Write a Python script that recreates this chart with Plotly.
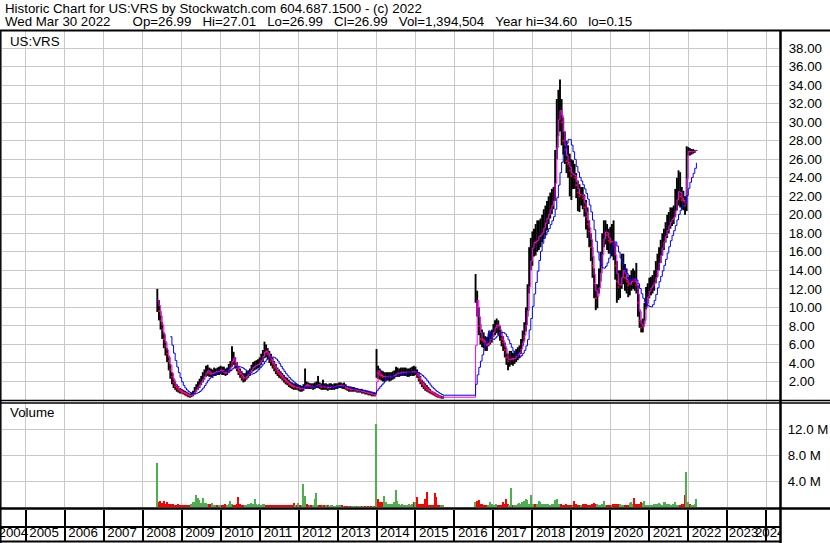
import plotly.graph_objects as go
import pandas as pd

# ---------------- DATA (semi-monthly bars, 24 per year) ----------------
# Segment 1: old listing, starts at 2008, half-month #9 (mid-May 2008)
seg1_start = (2008, 9)
seg1_high = [
    # 2008
    12.0, 10.8, 9.6, 8.4, 7.3, 6.4, 5.6, 4.8, 3.9, 3.0, 2.4, 2.0, 1.7, 1.5, 1.3,
    # 2009
    1.2, 1.1, 1.0, 0.9, 0.8, 0.7, 0.8, 1.0, 1.4, 1.7, 2.0, 2.3, 2.6, 3.0, 3.3, 3.7, 3.8, 3.5, 3.4, 3.3, 3.5, 3.4, 3.5, 3.6,
    # 2010
    3.7, 3.6, 3.6, 3.4, 3.5, 3.9, 4.2, 5.8, 5.2, 4.6, 4.1, 3.7, 3.4, 3.1, 2.9, 2.9, 3.1, 3.2, 3.4, 3.8, 4.1, 4.2, 4.3, 4.4,
    # 2011
    4.6, 5.0, 5.4, 6.3, 6.0, 5.6, 5.3, 5.0, 4.6, 4.2, 3.9, 3.5, 3.3, 3.1, 2.9, 2.7, 2.5, 2.4, 2.2, 2.0, 1.9, 1.8, 1.8, 1.7,
    # 2012
    1.6, 1.6, 1.5, 1.7, 3.4, 2.0, 1.9, 1.8, 1.8, 1.8, 1.9, 2.0, 2.6, 1.9, 1.8, 2.2, 1.8, 1.8, 1.7, 1.8, 1.8, 1.7, 1.8, 1.8,
    # 2013
    1.8, 1.9, 1.9, 1.8, 1.9, 1.7, 1.5, 1.4, 1.4, 1.4, 1.4, 1.3, 1.3, 1.2, 1.2, 1.2, 1.1, 1.1, 1.0, 1.0, 0.9, 0.9, 0.8, 0.8,
    # 2014
    5.5, 3.7, 3.4, 3.2, 3.1, 3.0, 3.0, 3.0, 3.0, 3.0, 3.1, 3.2, 3.6, 3.5, 3.4, 3.5, 3.5, 3.5, 3.5, 3.4, 3.4, 3.5, 3.6, 3.7,
    # 2015
    3.6, 3.3, 3.0, 2.6, 2.2, 2.0, 1.8, 1.6, 1.4, 1.2, 1.0, 0.9, 0.8, 0.7, 0.6, 0.5, 0.45, 0.4,
]
seg1_low = [
    9.5, 8.6, 7.6, 6.6, 5.6, 4.8, 4.1, 3.2, 2.3, 1.7, 1.3, 1.1, 0.9, 0.8, 0.7,
    0.7, 0.6, 0.5, 0.4, 0.3, 0.25, 0.3, 0.4, 0.6, 0.9, 1.1, 1.3, 1.6, 1.9, 2.2, 2.5, 2.6, 2.5, 2.5, 2.4, 2.6, 2.6, 2.7, 2.7,
    2.8, 2.7, 2.7, 2.6, 2.7, 2.9, 3.1, 3.6, 3.8, 3.4, 3.1, 2.7, 2.4, 2.1, 1.9, 2.0, 2.2, 2.4, 2.6, 2.9, 3.1, 3.2, 3.3, 3.4,
    3.5, 3.8, 4.1, 4.5, 4.6, 4.4, 4.0, 3.7, 3.4, 3.1, 2.8, 2.6, 2.4, 2.3, 2.1, 1.9, 1.7, 1.6, 1.4, 1.3, 1.2, 1.1, 1.1, 1.1,
    1.0, 0.9, 0.9, 1.0, 1.2, 1.2, 1.2, 1.2, 1.2, 1.1, 1.2, 1.3, 1.3, 1.2, 1.1, 1.1, 1.1, 1.1, 1.0, 1.1, 1.1, 1.1, 1.1, 1.2,
    1.2, 1.3, 1.3, 1.2, 1.2, 1.1, 1.0, 0.9, 0.9, 0.9, 0.9, 0.9, 0.8, 0.8, 0.8, 0.7, 0.7, 0.6, 0.6, 0.5, 0.5, 0.4, 0.4, 0.4,
    2.4, 2.3, 2.2, 2.1, 2.0, 2.0, 2.1, 2.1, 2.0, 2.1, 2.2, 2.3, 2.5, 2.5, 2.5, 2.6, 2.6, 2.6, 2.6, 2.5, 2.5, 2.6, 2.6, 2.6,
    2.7, 2.4, 2.0, 1.7, 1.4, 1.2, 1.0, 0.9, 0.8, 0.7, 0.6, 0.5, 0.4, 0.3, 0.25, 0.2, 0.15, 0.15,
]
seg1_close = [
    10.8, 9.6, 8.6, 7.6, 6.6, 5.8, 5.0, 4.2, 3.3, 2.5, 1.9, 1.5, 1.3, 1.1, 0.95,
    0.85, 0.8, 0.7, 0.6, 0.5, 0.45, 0.5, 0.7, 1.0, 1.3, 1.5, 1.8, 2.1, 2.4, 2.7, 3.1, 3.2, 2.9, 2.8, 2.9, 3.0, 3.1, 3.0, 3.2,
    3.3, 3.1, 3.0, 2.9, 3.1, 3.4, 3.6, 4.7, 4.3, 3.8, 3.4, 3.0, 2.8, 2.5, 2.3, 2.4, 2.7, 2.9, 3.1, 3.4, 3.6, 3.7, 3.8, 3.9,
    4.1, 4.5, 4.9, 5.4, 5.2, 4.9, 4.6, 4.2, 3.9, 3.5, 3.2, 3.0, 2.8, 2.6, 2.4, 2.2, 2.0, 1.9, 1.7, 1.6, 1.5, 1.4, 1.4, 1.3,
    1.3, 1.2, 1.2, 1.3, 1.7, 1.6, 1.5, 1.5, 1.4, 1.4, 1.5, 1.6, 1.7, 1.5, 1.4, 1.5, 1.4, 1.4, 1.3, 1.4, 1.4, 1.4, 1.5, 1.5,
    1.5, 1.6, 1.6, 1.5, 1.5, 1.3, 1.2, 1.2, 1.1, 1.1, 1.1, 1.1, 1.0, 1.0, 1.0, 0.9, 0.9, 0.8, 0.8, 0.7, 0.7, 0.6, 0.6, 0.5,
    3.4, 2.9, 2.7, 2.6, 2.5, 2.5, 2.5, 2.5, 2.5, 2.5, 2.6, 2.7, 2.9, 2.9, 2.9, 3.0, 3.0, 3.0, 3.0, 3.0, 3.0, 3.0, 3.1, 3.0,
    3.0, 2.7, 2.3, 2.0, 1.7, 1.5, 1.3, 1.1, 1.0, 0.9, 0.8, 0.7, 0.55, 0.45, 0.35, 0.3, 0.3, 0.3,
]
seg1_volume_m = [
    6.7, 0.8, 0.9, 0.6, 0.9, 0.5, 0.7, 0.5, 0.4, 0.5, 0.4, 0.3, 0.3, 0.4, 0.3,
    0.3, 0.3, 0.2, 0.3, 0.2, 0.3, 0.4, 0.8, 0.8, 1.9, 1.4, 1.1, 0.6, 1.4, 0.6, 0.6, 0.4, 0.4, 0.4, 0.6, 0.3, 0.3, 0.3, 0.3,
    0.3, 0.3, 0.3, 0.4, 0.3, 0.4, 0.9, 0.5, 0.3, 0.3, 0.4, 1.5, 0.4, 0.3, 0.3, 0.3, 0.3, 0.4, 0.4, 0.6, 0.5, 1.2, 0.4, 0.3,
    0.4, 0.3, 0.4, 0.5, 0.3, 0.3, 0.3, 0.2, 0.3, 0.2, 0.2, 0.3, 0.2, 0.3, 0.2, 0.2, 0.3, 0.2, 0.2, 0.3, 0.2, 0.6, 0.2, 0.2,
    0.6, 0.3, 0.2, 3.5, 1.7, 0.4, 0.3, 0.2, 0.2, 0.3, 1.3, 2.2, 0.3, 0.3, 0.2, 0.3, 0.2, 0.2, 0.2, 0.1, 0.2, 0.2, 0.1, 0.1,
    0.2, 0.2, 0.2, 0.2, 0.15, 0.15, 0.15, 0.1, 0.1, 0.15, 0.1, 0.1, 0.1, 0.1, 0.1, 0.1, 0.1, 0.1, 0.1, 0.1, 0.1, 0.1, 0.1, 0.15,
    12.8, 1.3, 0.8, 0.7, 0.7, 1.7, 0.8, 0.4, 0.5, 0.4, 0.4, 0.7, 2.6, 0.9, 0.4, 0.3, 0.4, 0.3, 0.3, 0.3, 0.4, 0.3, 0.4, 0.7,
    0.7, 1.6, 0.4, 0.5, 0.4, 0.5, 1.3, 2.3, 0.3, 0.3, 0.3, 0.3, 2.1, 1.6, 0.2, 0.2, 0.2, 0.2,
]

# Segment 2: new listing, starts at 2016, half-month #13 (mid-July 2016)
seg2_start = (2016, 13)
seg2_high = [
    # 2016
    13.6, 11.8, 10.0, 8.2, 7.6, 7.3, 6.9, 6.8, 7.2, 7.4, 7.6,
    # 2017
    8.2, 8.6, 8.8, 8.6, 8.0, 7.4, 6.9, 6.2, 5.6, 5.0, 5.3, 5.3, 5.1, 5.3, 5.5, 5.7, 5.9, 6.6, 7.5, 8.4, 10.0, 12.5, 16.5, 17.5,
    # 2018
    18.2, 18.5, 19.0, 19.4, 19.4, 19.6, 20.0, 20.6, 21.0, 21.5, 22.0, 22.4, 22.8, 23.0, 27.0, 32.5, 33.5, 34.6, 32.5, 30.5, 29.0, 28.0, 27.5, 26.6,
    # 2019
    26.0, 25.9, 25.5, 24.5, 23.7, 23.3, 23.0, 23.0, 22.2, 21.6, 20.8, 19.4, 18.0, 16.5, 14.2, 12.5, 12.5, 14.2, 16.0, 18.0, 19.4, 19.4, 19.0, 18.5,
    # 2020
    18.7, 19.0, 19.4, 17.0, 15.0, 14.0, 14.0, 15.8, 15.8, 14.7, 14.2, 13.3, 13.5, 14.0, 14.2, 14.0, 14.8, 12.4, 9.8, 8.6, 8.8, 10.5, 12.2, 12.6,
    # 2021
    13.2, 13.3, 13.5, 14.0, 15.0, 15.8, 16.5, 17.3, 18.0, 18.5, 19.2, 20.0, 20.3, 20.8, 20.8, 21.0, 22.8, 24.0, 24.8, 24.6, 23.0, 22.6, 22.0, 27.4,
    # 2022
    27.3, 27.2, 27.1, 27.1, 27.0, 27.01,
]
seg2_low = [
    10.5, 9.0, 7.0, 6.0, 5.7, 5.6, 5.3, 5.3, 5.8, 6.0, 6.2,
    6.8, 7.0, 7.2, 7.0, 6.4, 5.8, 5.3, 4.6, 3.8, 3.2, 3.6, 3.8, 3.7, 3.9, 4.1, 4.3, 4.5, 5.0, 5.8, 6.4, 7.4, 9.0, 11.5, 14.0,
    14.5, 15.5, 15.6, 16.0, 16.2, 16.5, 17.0, 17.4, 17.8, 18.3, 19.0, 19.6, 20.1, 20.6, 21.5, 26.0, 28.5, 29.0, 27.5, 26.5, 25.5, 24.5, 24.0, 22.0,
    21.6, 22.8, 22.8, 21.8, 20.4, 20.3, 21.0, 20.6, 19.8, 18.4, 17.5, 16.5, 15.0, 13.2, 11.0, 9.7, 9.9, 11.5, 12.8, 14.5, 16.5, 16.8, 16.2, 15.8,
    15.8, 15.5, 15.1, 13.0, 10.5, 10.8, 11.0, 12.0, 12.5, 11.8, 11.5, 11.1, 11.3, 11.8, 12.0, 11.8, 11.5, 9.0, 7.8, 7.3, 7.3, 8.2, 9.8, 10.4,
    11.0, 11.3, 11.5, 11.8, 12.6, 13.3, 14.0, 14.8, 15.6, 16.2, 17.0, 17.5, 18.0, 18.5, 18.8, 19.0, 19.8, 20.5, 21.0, 20.8, 20.6, 20.5, 20.0, 20.4,
    26.4, 26.4, 26.5, 26.6, 26.7, 26.9,
]
seg2_close = [
    11.5, 10.0, 8.0, 6.6, 6.5, 6.3, 6.0, 5.9, 6.4, 6.7, 7.0,
    7.6, 8.0, 8.2, 8.0, 7.2, 6.6, 6.2, 5.4, 4.6, 4.2, 4.5, 4.5, 4.4, 4.6, 4.8, 5.0, 5.2, 5.8, 6.6, 7.4, 8.8, 10.5, 14.0, 16.0,
    16.8, 17.2, 17.0, 17.5, 17.8, 17.8, 18.3, 18.8, 19.4, 19.8, 20.3, 20.8, 21.2, 21.8, 25.0, 29.5, 31.0, 31.5, 30.0, 28.0, 27.0, 25.8, 25.5, 24.8,
    24.2, 24.5, 24.0, 23.2, 22.4, 22.0, 22.3, 21.8, 20.8, 19.8, 19.0, 18.2, 16.5, 14.5, 12.6, 11.0, 11.4, 12.8, 14.6, 16.8, 18.0, 18.3, 17.8, 17.2,
    17.0, 17.2, 16.8, 14.5, 12.8, 12.2, 12.6, 13.8, 14.2, 13.2, 12.8, 12.4, 12.6, 13.0, 13.2, 12.8, 12.4, 10.5, 8.6, 7.8, 8.0, 9.2, 10.8, 11.5,
    12.0, 12.2, 12.5, 12.8, 13.6, 14.4, 15.2, 16.0, 16.8, 17.4, 18.0, 18.6, 19.0, 19.4, 19.6, 19.8, 21.0, 22.2, 22.8, 22.0, 21.6, 21.5, 21.0, 26.8,
    26.9, 26.8, 26.8, 26.9, 26.9, 26.99,
]
seg2_volume_m = [
    0.8, 1.0, 1.1, 0.4, 0.4, 0.3, 0.3, 0.3, 0.3, 0.7, 0.4,
    0.3, 0.3, 0.4, 0.3, 0.3, 0.3, 0.7, 0.4, 1.2, 0.4, 0.3, 3.0, 0.3, 0.3, 0.3, 0.4, 0.6, 0.4, 0.7, 0.9, 1.2, 1.1, 0.4, 1.8,
    0.4, 0.4, 0.5, 0.5, 1.0, 0.7, 0.4, 0.4, 0.4, 0.4, 0.4, 0.3, 0.4, 0.5, 1.1, 1.3, 0.5, 0.4, 0.4, 0.3, 0.3, 0.4, 0.3, 0.3,
    0.3, 0.3, 0.9, 0.5, 0.3, 0.3, 0.3, 0.4, 0.4, 0.4, 0.3, 0.3, 0.3, 0.4, 0.6, 0.5, 0.4, 0.3, 0.3, 0.4, 0.9, 0.3, 0.3, 0.3,
    0.3, 0.3, 0.5, 0.5, 0.4, 0.4, 0.4, 0.3, 0.2, 0.2, 0.3, 0.3, 0.6, 0.8, 0.5, 1.4, 0.5, 0.4, 0.5, 0.8, 0.6, 0.9, 0.3, 0.3,
    0.3, 0.3, 0.3, 0.4, 0.4, 0.4, 0.6, 0.4, 0.3, 0.8, 0.7, 0.5, 0.5, 0.3, 0.3, 0.4, 0.8, 0.3, 0.3, 0.3, 0.4, 0.4, 1.8, 5.4,
    0.7, 0.4, 0.3, 0.3, 0.5, 1.2,
]

year_labels = [str(y) for y in range(2004, 2025)]
price_ticks = list(range(2, 39, 2))
volume_ticks_m = [4, 8, 12]

header_line1 = "Historic Chart for US:VRS by Stockwatch.com 604.687.1500 - (c) 2022"
header_date = "Wed Mar 30 2022"
header_fields = ["Op=26.99", "Hi=27.01", "Lo=26.99", "Cl=26.99",
                 "Vol=1,394,504", "Year hi=34.60", "lo=0.15"]
symbol_label = "US:VRS"

# ---------------- BUILD ----------------
W, H = 830, 543
FONT = "Liberation Sans, Arial, sans-serif"


def seg_times(start, n):
    y0, p0 = start
    return [y0 + (p0 + k) / 24.0 for k in range(n)]


t = seg_times(seg1_start, len(seg1_close)) + seg_times(seg2_start, len(seg2_close))
high = seg1_high + seg2_high
low = seg1_low + seg2_low
close = seg1_close + seg2_close
vol = [v * 1e6 for v in seg1_volume_m + seg2_volume_m]

cs = pd.Series(close)
ma_fast = cs.rolling(2, min_periods=1).mean()
ma_slow = cs.rolling(9).mean()

down = [i > 0 and close[i] < close[i - 1] for i in range(len(close))]
vol_colors = ["#ff0000" if d else "#4cb04c" for d in down]

bx, by = [], []
for ti, lo, hi in zip(t, low, high):
    bx += [ti, ti, None]
    by += [lo, hi, None]

rx = [ti for ti, d in zip(t, down) if d]
ry = [c for c, d in zip(close, down) if d]


def px(xp):
    return xp / W


def py(yp):
    return 1 - yp / H


PX_PER_YEAR = 38.97
X2008 = 142.7


def yr_at(xp):
    return 2008 + (xp - X2008) / PX_PER_YEAR


XL, XR = 2, 779
XMIN, XMAX = yr_at(XL), yr_at(XR)
LXL, LXR = 0, 781

fig = go.Figure()
fig.add_trace(go.Scatter(x=bx, y=by, mode="lines", line=dict(color="black", width=1.9),
                         hoverinfo="skip", xaxis="x", yaxis="y"))
fig.add_trace(go.Scatter(x=rx, y=ry, mode="markers",
                         marker=dict(color="#ff0000", size=1.8, symbol="square", line=dict(width=0)),
                         hoverinfo="skip", xaxis="x", yaxis="y"))
fig.add_trace(go.Scatter(x=t, y=ma_fast, mode="lines", line=dict(color="#ff00ff", width=1.0, shape="hv"),
                         hoverinfo="skip", xaxis="x", yaxis="y"))
fig.add_trace(go.Scatter(x=t, y=ma_slow, mode="lines", line=dict(color="#0000ff", width=1.0, shape="hv"),
                         hoverinfo="skip", xaxis="x", yaxis="y"))
fig.add_trace(go.Bar(x=t, y=vol, width=0.036, marker=dict(color=vol_colors, line=dict(width=0)),
                     hoverinfo="skip", xaxis="x2", yaxis="y2"))

# year label row
label_x = []
for lab in year_labels:
    y = int(lab)
    if y == 2004:
        label_x.append(2004.68)
    elif y == 2023:
        label_x.append(2023.42)
    elif y == 2024:
        label_x.append(2024.09)
    else:
        label_x.append(y + 0.47)
fig.add_trace(go.Scatter(x=label_x, y=[0.5] * len(label_x), mode="text", text=year_labels,
                         textfont=dict(family=FONT, size=13.3, color="black"), cliponaxis=True,
                         hoverinfo="skip", xaxis="x3", yaxis="y3"))
fig.add_trace(go.Scatter(x=[XMIN], y=[0.5], mode="markers", marker=dict(opacity=0),
                         hoverinfo="skip", xaxis="x4", yaxis="y4"))

GRID = "#c8c8c8"
xcommon = dict(tick0=2004, dtick=1, showticklabels=False, ticks="", zeroline=False,
               showline=False, fixedrange=True)
xmain = dict(range=[XMIN, XMAX], domain=[px(XL), px(XR)], **xcommon)
xrow = dict(range=[yr_at(LXL), yr_at(LXR)], domain=[px(LXL), px(LXR)], **xcommon)
tickfont = dict(family=FONT, size=13.3, color="black")

fig.update_layout(
    width=W, height=H, margin=dict(l=0, r=0, t=0, b=0),
    paper_bgcolor="white", plot_bgcolor="white", showlegend=False,
    xaxis=dict(**xmain, anchor="y", showgrid=True, gridcolor=GRID, gridwidth=1),
    yaxis=dict(domain=[py(400), py(31)], range=[0, 39.85], side="right", anchor="x",
               tickmode="array", tickvals=price_ticks, ticktext=[f"{v:.2f}" for v in price_ticks],
               showgrid=True, gridcolor=GRID, gridwidth=1, zeroline=False, showline=False,
               ticks="outside", ticklen=6, tickcolor="rgba(0,0,0,0)", tickfont=tickfont),
    xaxis2=dict(**xmain, anchor="y2", showgrid=True, gridcolor=GRID, gridwidth=1),
    yaxis2=dict(domain=[py(507), py(403)], range=[0, 16e6], side="right", anchor="x2",
                tickmode="array", tickvals=[v * 1e6 for v in volume_ticks_m],
                ticktext=[f"{v:.1f} M" for v in volume_ticks_m],
                showgrid=True, gridcolor=GRID, gridwidth=1, zeroline=False, showline=False,
                ticks="outside", ticklen=5, tickcolor="rgba(0,0,0,0)", tickfont=tickfont),
    xaxis3=dict(**xrow, anchor="y3", showgrid=True, gridcolor="black", gridwidth=1.5),
    yaxis3=dict(domain=[py(541), py(527)], range=[0, 1], anchor="x3", showgrid=False,
                showticklabels=False, zeroline=False, ticks="", fixedrange=True),
    xaxis4=dict(**xrow, anchor="y4", showgrid=True, gridcolor="black", gridwidth=1.5),
    yaxis4=dict(domain=[py(527), py(510)], range=[0, 1], anchor="x4", showgrid=False,
                showticklabels=False, zeroline=False, ticks="", fixedrange=True),
    bargap=0,
)


# frame lines
def hline(yp, x0=0, x1=W, w=2):
    fig.add_shape(type="line", xref="paper", yref="paper", x0=px(x0), x1=px(x1), y0=py(yp), y1=py(yp),
                  line=dict(color="black", width=w), layer="above")


def vline(xp, y0, y1, w=2):
    fig.add_shape(type="line", xref="paper", yref="paper", x0=px(xp), x1=px(xp), y0=py(y0), y1=py(y1),
                  line=dict(color="black", width=w), layer="above")


hline(30.5, w=2)
hline(400.5, w=1.5)
hline(403, w=1.5)
hline(508.5, w=2.5)
hline(527, 0, 781, w=2)
hline(541.5, 0, 781, w=2)
vline(780.5, 30, 543, w=2.5)
vline(0.8, 30, 543, w=1.5)

ann_font = dict(family=FONT, size=13.3, color="black")
NB = "\u00a0"
line2 = header_date + NB * 6 + (NB * 3).join(f.replace(" ", NB) for f in header_fields)
fig.add_annotation(x=px(3), y=py(8.5), xref="paper", yref="paper", xanchor="left", yanchor="middle",
                   text=header_line1.replace(" ", NB), showarrow=False, font=ann_font)
fig.add_annotation(x=px(3), y=py(21), xref="paper", yref="paper", xanchor="left", yanchor="middle",
                   text=line2, showarrow=False, font=ann_font)
fig.add_annotation(x=px(8), y=py(41), xref="paper", yref="paper", xanchor="left", yanchor="middle",
                   text=symbol_label, showarrow=False, font=ann_font)
fig.add_annotation(x=px(8), y=py(413), xref="paper", yref="paper", xanchor="left", yanchor="middle",
                   text="Volume", showarrow=False, font=ann_font)

fig.write_html("out.html", config={"displayModeBar": False},
               post_script="document.body.style.margin='0';document.body.style.overflow='hidden';")
